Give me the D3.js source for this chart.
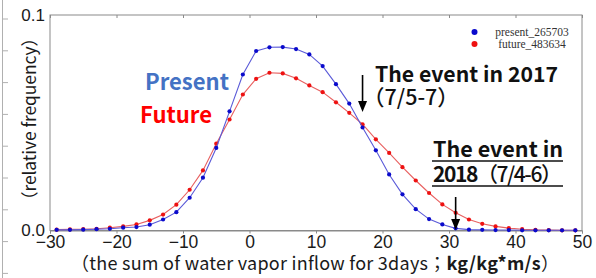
<!DOCTYPE html>
<html>
<head>
<meta charset="utf-8">
<script src="https://cdn.jsdelivr.net/npm/d3@7"></script>
<style>
  html, body { margin: 0; padding: 0; background: #fff; }
  svg { display: block; }
</style>
</head>
<body>
<svg id="chart" width="596" height="278"></svg>
<script>
// ---- data ----
const xValues = [-29, -27, -25, -23, -21, -19, -17, -15, -13, -11, -9, -7, -5, -3, -1, 1, 3, 5, 7, 9,
                 11, 13, 15, 17, 19, 21, 23, 25, 27, 29, 31, 33, 35, 37, 39, 41, 43, 45, 47, 49];
const presentValues = [0.0003, 0.0003, 0.0004, 0.0006, 0.0008, 0.0013, 0.0016, 0.0027, 0.0051, 0.0085,
                       0.0152, 0.0245, 0.0383, 0.0553, 0.0724, 0.0833, 0.0850, 0.0851, 0.0842, 0.0817,
                       0.0763, 0.0679, 0.0589, 0.0478, 0.0372, 0.0260, 0.0168, 0.0099, 0.0053, 0.0028,
                       0.0010, 0.0004, 0.0003, 0.0002, 0.0002, 0.0001, 0.0001, 0.0001, 0.0001, 0.0001];
const futureValues = [0.0004, 0.0005, 0.0006, 0.0008, 0.0013, 0.0019, 0.0028, 0.0047, 0.0074, 0.0120,
                      0.0189, 0.0279, 0.0403, 0.0515, 0.0631, 0.0704, 0.0732, 0.0729, 0.0706, 0.0673,
                      0.0642, 0.0595, 0.0546, 0.0493, 0.0423, 0.0360, 0.0294, 0.0232, 0.0174, 0.0121,
                      0.0082, 0.0051, 0.0031, 0.0019, 0.0011, 0.0006, 0.0003, 0.0002, 0.0001, 0.0001];
const seriesNames = ["present_265703", "future_483634"];
const xTicks = [-30, -20, -10, 0, 10, 20, 30, 40, 50];
const yTicks = [0.0, 0.1];
const eventValues = [17, 31];

// ---- layout ----
const svg = d3.select("#chart");
const x = d3.scaleLinear().domain([-30, 50]).range([50, 582]);
const y = d3.scaleLinear().domain([0, 0.1]).range([230.5, 15]);
const axisColor = "#8a8a8a";
const blueDot = "#0a0acc", blueLine = "#5a5ad8";
const redDot = "#ee1111", redLine = "#e86060";

// outer decorative left ruler
svg.append("line").attr("x1", 2.5).attr("x2", 2.5).attr("y1", 0).attr("y2", 278)
  .attr("stroke", "#b0b0b0").attr("stroke-width", 1);
d3.range(9).forEach(i => {
  const yy = 19 + i * 31.8;
  svg.append("line").attr("x1", 2.5).attr("x2", 8).attr("y1", yy).attr("y2", yy)
    .attr("stroke", "#b0b0b0").attr("stroke-width", 1);
});

// frame
const g = svg.append("g");
g.append("rect").attr("x", x(-30)).attr("y", y(0.1))
  .attr("width", x(50) - x(-30)).attr("height", y(0) - y(0.1))
  .attr("fill", "none").attr("stroke", axisColor).attr("stroke-width", 1);

// bottom axis
const xAxis = d3.axisBottom(x).tickValues(xTicks).tickSize(3)
  .tickFormat(d => d < 0 ? "\u2212" + Math.abs(d) : d);
const xa = g.append("g").attr("transform", `translate(0,${y(0)})`).call(xAxis);
xa.select(".domain").attr("stroke", axisColor);
xa.selectAll(".tick line").attr("stroke", axisColor);
xa.selectAll(".tick text").attr("fill", "#1a1a1a").attr("font-size", 17.5)
  .attr("font-family", "'Liberation Sans', Arial, sans-serif").attr("y", 5).attr("dy", "0.71em");

// top axis ticks (inward)
const xTop = d3.axisTop(x).tickValues(xTicks).tickSize(-3).tickFormat("");
const xt = g.append("g").attr("transform", `translate(0,${y(0.1)})`).call(xTop);
xt.select(".domain").remove();
xt.selectAll(".tick line").attr("stroke", axisColor);

// left axis labels
const yAxis = d3.axisLeft(y).tickValues(yTicks).tickSize(0).tickPadding(5)
  .tickFormat(d3.format(".1f"));
const ya = g.append("g").attr("transform", `translate(${x(-30)},0)`).call(yAxis);
ya.select(".domain").remove();
ya.selectAll(".tick text").attr("fill", "#1a1a1a").attr("font-size", 17)
  .attr("font-family", "'Liberation Sans', Arial, sans-serif");

// lines & points
const line = d3.line().x((d, i) => x(xValues[i])).y(d => y(d)).curve(d3.curveLinear);
[[futureValues, redLine, redDot], [presentValues, blueLine, blueDot]].forEach(([vals, lc, dc]) => {
  g.append("path").datum(vals).attr("d", line).attr("fill", "none")
    .attr("stroke", lc).attr("stroke-width", 1.1);
  g.selectAll(null).data(vals).enter().append("circle")
    .attr("cx", (d, i) => x(xValues[i])).attr("cy", d => y(d)).attr("r", 2.1).attr("fill", dc);
});

// legend
const legend = svg.append("g");
[[seriesNames[0], blueDot, 36], [seriesNames[1], redDot, 48]].forEach(([name, c, by]) => {
  legend.append("circle").attr("cx", 474.5).attr("cy", by - 4).attr("r", 3).attr("fill", c);
  legend.append("text").attr("x", 532).attr("y", by).attr("text-anchor", "middle")
    .attr("font-family", "'Liberation Serif', 'Times New Roman', serif").attr("font-size", 11.5)
    .attr("fill", "#333").text(name);
});

// axis titles
const cjk = "'Noto Sans CJK JP', 'Noto Sans', sans-serif";
const xt2 = svg.append("text").attr("x", 71).attr("y", 270)
  .attr("font-family", cjk).attr("font-size", 18).attr("fill", "#1a1a1a")
  .attr("textLength", 488).attr("lengthAdjust", "spacing");
xt2.append("tspan").text("（the sum of water vapor inflow for 3days；");
xt2.append("tspan").attr("font-weight", "bold").text("kg/kg*m/s");
xt2.append("tspan").text("）");

svg.append("text").attr("transform", "translate(36,209) rotate(-90)")
  .attr("font-family", cjk).attr("font-size", 17.5).attr("fill", "#1a1a1a")
  .attr("textLength", 180).attr("lengthAdjust", "spacing")
  .text("（relative frequency）");

// series labels
svg.append("text").attr("x", 145).attr("y", 90).attr("font-family", cjk)
  .attr("font-weight", "bold").attr("font-size", 22).attr("fill", "#4472C4")
  .attr("textLength", 84).attr("lengthAdjust", "spacingAndGlyphs").text("Present");
svg.append("text").attr("x", 140).attr("y", 123).attr("font-family", cjk)
  .attr("font-weight", "bold").attr("font-size", 22).attr("fill", "#FF0000")
  .attr("textLength", 72).attr("lengthAdjust", "spacingAndGlyphs").text("Future");

// annotations
svg.append("text").attr("x", 375).attr("y", 82).attr("font-family", cjk)
  .attr("font-weight", "bold").attr("font-size", 21).attr("fill", "#111")
  .attr("textLength", 183).attr("lengthAdjust", "spacingAndGlyphs").text("The event in 2017");
svg.append("text").attr("x", 363).attr("y", 105).attr("font-family", cjk)
  .attr("font-weight", 500).attr("font-size", 21.5).attr("fill", "#111").text("（7/5-7）");

svg.append("text").attr("x", 433).attr("y", 157).attr("font-family", cjk)
  .attr("font-weight", "bold").attr("font-size", 21).attr("fill", "#111")
  .attr("textLength", 130).attr("lengthAdjust", "spacingAndGlyphs").text("The event in");
const t18 = svg.append("text").attr("x", 433).attr("y", 182).attr("font-family", cjk)
  .attr("font-size", 21).attr("fill", "#111")
  .attr("textLength", 129).attr("lengthAdjust", "spacing");
t18.append("tspan").attr("font-weight", "bold").text("2018");
t18.append("tspan").attr("font-weight", 500).text("（7/4-6）");
[161, 186].forEach(yy => {
  svg.append("line").attr("x1", 432).attr("x2", 563).attr("y1", yy).attr("y2", yy)
    .attr("stroke", "#111").attr("stroke-width", 1.5);
});

// arrows
const arrowSpecs = [[eventValues[0], 75, 112], [eventValues[1], 197, 230]];
arrowSpecs.forEach(([v, y1, y2]) => {
  const ax = x(v);
  svg.append("line").attr("x1", ax).attr("x2", ax).attr("y1", y1).attr("y2", y2 - 8)
    .attr("stroke", "#000").attr("stroke-width", 1.6);
  svg.append("path").attr("d", `M${ax - 4.5},${y2 - 11} L${ax + 4.5},${y2 - 11} L${ax},${y2} Z`)
    .attr("fill", "#000");
});
</script>
</body>
</html>
